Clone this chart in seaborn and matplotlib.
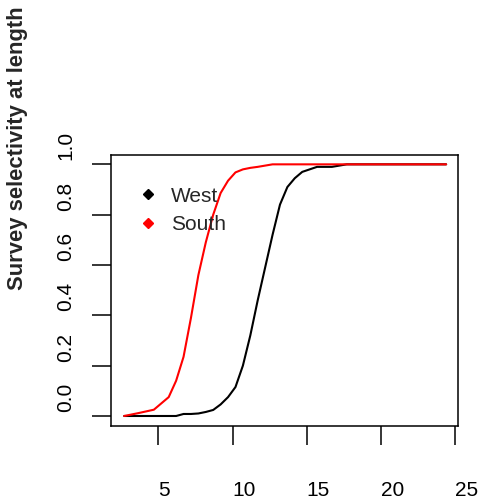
import numpy as np
import pandas as pd
import matplotlib
matplotlib.use("Agg")
import matplotlib.pyplot as plt
import matplotlib.transforms as mtransforms
from matplotlib.lines import Line2D
import seaborn as sns

# ---- data ----
length = [2.7, 3.7, 4.7, 5.7, 6.2, 6.7, 7.2, 7.7, 8.2, 8.7, 9.2, 9.7, 10.2,
          10.7, 11.2, 11.7, 12.2, 12.7, 13.2, 13.7, 14.2, 14.7, 15.2, 15.7,
          16.7, 17.7, 18.7, 19.7, 20.7, 21.7, 22.7, 23.7, 24.4]
west = [0.0, 0.0, 0.0, 0.0, 0.0, 0.008, 0.008, 0.01, 0.016, 0.024, 0.046, 0.075,
        0.115, 0.20, 0.32, 0.46, 0.59, 0.72, 0.84, 0.91, 0.945, 0.97, 0.98, 0.99,
        0.99, 1.0, 1.0, 1.0, 1.0, 1.0, 1.0, 1.0, 1.0]
south = [0.0, 0.012, 0.025, 0.075, 0.14, 0.235, 0.39, 0.56, 0.69, 0.80, 0.886,
         0.935, 0.968, 0.98, 0.986, 0.99, 0.995, 1.0, 1.0, 1.0, 1.0, 1.0, 1.0,
         1.0, 1.0, 1.0, 1.0, 1.0, 1.0, 1.0, 1.0, 1.0, 1.0]
series_names = ["West", "South"]
series_colors = ["black", "red"]
x_ticks = [5, 10, 15, 20, 25]
x_ticklabels = ["5", "10", "15", "20", "25"]
y_ticks = [0.0, 0.2, 0.4, 0.6, 0.8, 1.0]
y_ticklabels = ["0.0", "0.2", "0.4", "0.6", "0.8", "1.0"]
y_label = "Survey selectivity at length"

df = pd.DataFrame({
    "length": length * 2,
    "selectivity": west + south,
    "region": ["West"] * len(length) + ["South"] * len(length),
})

sns.set_style("white")
plt.rcParams["font.family"] = ["Liberation Sans", "DejaVu Sans"]
plt.rcParams["font.size"] = 15

fig = plt.figure(figsize=(4.8, 5.04), dpi=100)
ax = fig.add_axes([0.2306, 0.1554, 0.723, 0.537])

sns.lineplot(data=df, x="length", y="selectivity", hue="region",
             hue_order=series_names,
             palette=dict(zip(series_names, series_colors)),
             linewidth=1.5, legend=False, ax=ax, estimator=None)

ax.set_xlim(1.79, 25.18)
ax.set_ylim(-0.0385, 1.037)
ax.set_xlabel("")

for s in ax.spines.values():
    s.set_color("black")
    s.set_linewidth(1.1)
    s.set_visible(True)

ax.set_xticks(x_ticks)
ax.set_xticklabels(x_ticklabels)
ax.set_yticks(y_ticks)
ax.set_yticklabels(y_ticklabels, rotation=90)
ax.tick_params(axis="both", direction="out", length=13.5, width=1.1,
               color="black", labelcolor="black", labelsize=15)
ax.tick_params(axis="x", pad=26)
ax.tick_params(axis="y", pad=12)
ax.tick_params(left=True, bottom=True)

for lab in ax.get_xticklabels():
    lab.set_horizontalalignment("left")
shift = mtransforms.ScaledTranslation(0, 0.04, fig.dpi_scale_trans)
for lab in ax.get_yticklabels():
    lab.set_verticalalignment("bottom")
    lab.set_transform(lab.get_transform() + shift)

yl = ax.set_ylabel(y_label, fontweight="bold", fontsize=15.8, va="center")
ax.yaxis.set_label_coords((18 - 110.7) / 347.0, (425.7 - 148) / 270.7)

handles = [Line2D([], [], marker="D", linestyle="none", color=c, markersize=5.5)
           for c in series_colors]
ax.legend(handles, series_names, loc="upper left", frameon=False,
          bbox_to_anchor=(0.053, 0.914), handlelength=1.0, handletextpad=0.6,
          labelspacing=0.45, fontsize=15, borderaxespad=0)

fig.savefig("out.png", dpi=100)
